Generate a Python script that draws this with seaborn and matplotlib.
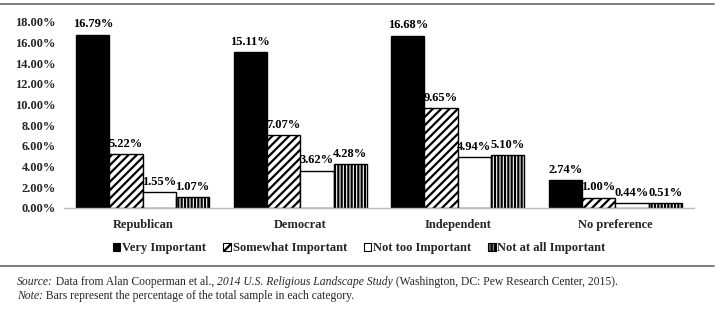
import matplotlib
matplotlib.use("Agg")
import matplotlib.pyplot as plt
import seaborn as sns
import pandas as pd
from matplotlib.patches import Patch
from matplotlib.lines import Line2D

categories = ["Republican", "Democrat", "Independent", "No preference"]
series = ["Very Important", "Somewhat Important", "Not too Important", "Not at all Important"]
very_important = [16.79, 15.11, 16.68, 2.74]
somewhat_important = [5.22, 7.07, 9.65, 1.00]
not_too_important = [1.55, 3.62, 4.94, 0.44]
not_at_all_important = [1.07, 4.28, 5.10, 0.51]
yticks = [0, 2, 4, 6, 8, 10, 12, 14, 16, 18]

values = [very_important, somewhat_important, not_too_important, not_at_all_important]
rows = []
for s, vals in zip(series, values):
    for c, v in zip(categories, vals):
        rows.append({"Party": c, "Importance": s, "Value": v})
df = pd.DataFrame(rows)

sns.set_theme(style="white")
plt.rcParams["font.family"] = ["Liberation Serif", "DejaVu Serif"]
plt.rcParams["hatch.linewidth"] = 1.6

fig = plt.figure(figsize=(7.23, 3.32), dpi=100)
ax = fig.add_axes([64 / 723, 1 - 208 / 332, 630 / 723, 186 / 332])

facecolors = ["black", "white", "white", "white"]
hatches = [None, "////", None, "|||||"]

sns.barplot(data=df, x="Party", y="Value", hue="Importance", order=categories,
            hue_order=series, width=0.845, ax=ax, legend=False,
            edgecolor="black", linewidth=1.0, saturation=1)

for i, cont in enumerate(ax.containers):
    for bar in cont:
        bar.set_facecolor(facecolors[i])
        bar.set_edgecolor("black")
        if hatches[i]:
            bar.set_hatch(hatches[i])
    ax.bar_label(cont, labels=[f"{v:.2f}%" for v in values[i]], padding=3,
                 fontsize=9, fontweight="bold", color="black")

ax.set_xlim(-0.5, 3.5)
ax.set_ylim(0, 18)
ax.set_yticks(yticks)
ax.set_yticklabels([f"{t:.2f}%" for t in yticks], fontsize=9, fontweight="bold")
ax.set_xticks(range(len(categories)))
ax.set_xticklabels(categories, fontsize=9, fontweight="bold")
ax.tick_params(axis="y", length=0, pad=6)
ax.tick_params(axis="x", length=0, pad=8)
ax.set_xlabel("")
ax.set_ylabel("")
for side in ["top", "right", "left"]:
    ax.spines[side].set_visible(False)
ax.spines["bottom"].set_color("#bbbbbb")
ax.spines["bottom"].set_linewidth(1.0)

legend_faces = ["black", "white", "white", "#999999"]
handles = [Patch(facecolor=legend_faces[i], edgecolor="black",
                 hatch=hatches[i], linewidth=0.8, label=s) for i, s in enumerate(series)]
fig.legend(handles=handles, loc="center", bbox_to_anchor=(0.497, 1 - 248 / 332), ncol=4,
           frameon=False, prop={"size": 9, "weight": "bold"}, handlelength=0.6,
           handleheight=0.6, handletextpad=0.15, columnspacing=1.35, borderaxespad=0)

fig.add_artist(Line2D([0, 0.988], [1 - 3.5 / 332] * 2, transform=fig.transFigure,
                      color="#666666", linewidth=1.2))
fig.add_artist(Line2D([0, 0.988], [1 - 266 / 332] * 2, transform=fig.transFigure,
                      color="#666666", linewidth=1.2))

fs = 8.4
x0 = 17 / 723
y1 = 1 - 282 / 332
y2 = 1 - 296 / 332
t = fig.text(x0, y1, "Source:", fontsize=fs, style="italic", va="center")
fig.canvas.draw()
r = fig.canvas.get_renderer()

def after(txt, s, **kw):
    bb = txt.get_window_extent(renderer=r)
    x = bb.x1 / fig.bbox.width
    return fig.text(x, txt.get_position()[1], s, fontsize=fs, va="center", **kw)

t2 = after(t, " Data from Alan Cooperman et al., ")
t3 = after(t2, "2014 U.S. Religious Landscape Study", style="italic")
t4 = after(t3, " (Washington, DC: Pew Research Center, 2015).")
n = fig.text(x0, y2, "Note:", fontsize=fs, style="italic", va="center")
after(n, " Bars represent the percentage of the total sample in each category.")

fig.savefig("out.png", dpi=100)
